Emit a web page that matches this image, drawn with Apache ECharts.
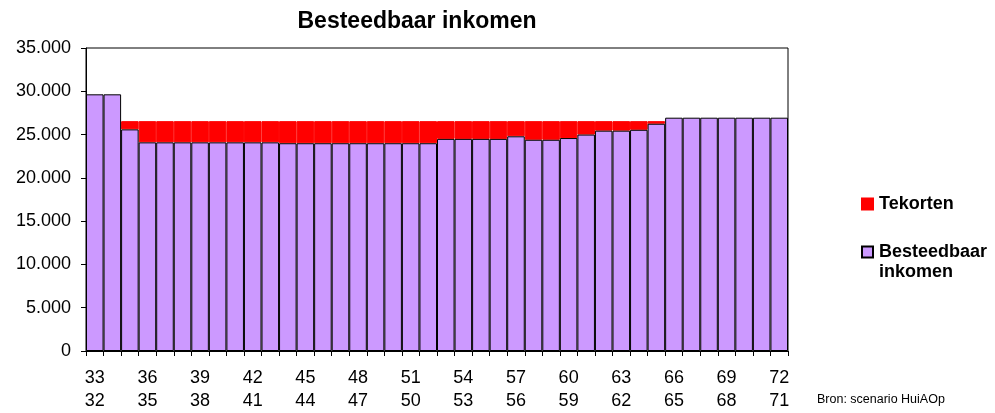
<!DOCTYPE html>
<html>
<head>
<meta charset="utf-8">
<script src="https://cdn.jsdelivr.net/npm/echarts@6/dist/echarts.min.js"></script>
<style>
  html, body { margin: 0; padding: 0; background: #fff; }
  #chart { width: 995px; height: 413px; }
</style>
</head>
<body>
<div id="chart"></div>
<script>
// leeftijd (onderste regel) per balk
var ages = [];
for (var a = 32; a <= 71; a++) ages.push(a);
var categories = ages.map(function (a) { return (a + 1) + '\n' + a; });

var inkomen = [
  29650, 29650, 25600, 24100, 24100, 24100, 24100, 24100, 24100, 24100,
  24100, 24000, 24000, 24000, 24000, 24000, 24000, 24000, 24000, 24000,
  24500, 24500, 24500, 24500, 24800, 24400, 24400, 24600, 25000, 25450,
  25450, 25550, 26250, 26950, 26950, 26950, 26950, 26950, 26950, 26950
];
var tekorten = [
  0, 0, 950, 2450, 2450, 2450, 2450, 2450, 2450, 2450,
  2450, 2550, 2550, 2550, 2550, 2550, 2550, 2550, 2550, 2550,
  2050, 2050, 2050, 2050, 1750, 2150, 2150, 1950, 1550, 1100,
  1100, 1000, 300, 0, 0, 0, 0, 0, 0, 0
];

var chart = echarts.init(document.getElementById('chart'));
var font = 'Liberation Sans, Arial, sans-serif';

var option = {
  animation: false,
  textStyle: { fontFamily: font },
  title: {
    text: 'Besteedbaar inkomen',
    left: 412, top: 5, textAlign: 'center',
    textStyle: { fontSize: 23, fontWeight: 'bold', color: '#000', fontFamily: font }
  },
  grid: {
    left: 86, top: 48, width: 702, height: 303,
    show: true, borderColor: '#000', borderWidth: 1, backgroundColor: '#fff'
  },
  legend: {
    orient: 'vertical',
    left: 856, top: 189,
    itemGap: 28,
    itemWidth: 11, itemHeight: 11,
    icon: 'rect',
    data: ['Tekorten', 'Besteedbaar inkomen'],
    formatter: function (n) { return n === 'Besteedbaar inkomen' ? 'Besteedbaar' : n; },
    textStyle: { fontSize: 18, fontWeight: 'bold', color: '#000', lineHeight: 20, padding: [0, 0, 0, 1], fontFamily: font }
  },
  xAxis: {
    type: 'category',
    data: categories,
    axisLine: { lineStyle: { color: '#000', width: 1 } },
    axisTick: { show: true, interval: 0, length: 5, lineStyle: { color: '#000' } },
    axisLabel: { interval: 2, fontSize: 18, lineHeight: 23, color: '#000', margin: 16, fontFamily: font }
  },
  yAxis: {
    type: 'value',
    min: 0, max: 35000, interval: 5000,
    splitLine: { show: false },
    axisLine: { show: true, lineStyle: { color: '#000' } },
    axisTick: { show: true, length: 5, lineStyle: { color: '#000' } },
    axisLabel: {
      fontSize: 18, color: '#000', margin: 15, fontFamily: font,
      formatter: function (v) { return String(v).replace(/\B(?=(\d{3})+(?!\d))/g, '.'); }
    }
  },
  series: [
    {
      name: 'Besteedbaar inkomen',
      type: 'bar',
      stack: 'tot',
      z: 3,
      barWidth: '100%',
      barCategoryGap: '0%',
      data: inkomen,
      itemStyle: { color: '#CC99FF', borderColor: '#000', borderWidth: 1 }
    },
    {
      name: 'Tekorten',
      type: 'bar',
      stack: 'tot',
      z: 2,
      barWidth: '100%',
      barCategoryGap: '0%',
      // geen tekort: geen balk tekenen
      data: tekorten.map(function (v) { return v === 0 ? '-' : v; }),
      itemStyle: { color: '#FF0000', borderColor: '#FF0000', borderWidth: 1 }
    }
  ],
  graphic: [
    {
      type: 'text', x: 879, y: 272,
      style: { text: 'inkomen', fontSize: 18, fontWeight: 'bold', fill: '#000', fontFamily: font, verticalAlign: 'middle' }
    },
    {
      type: 'text', x: 817, y: 400,
      style: { text: 'Bron: scenario HuiAOp', fontSize: 12.5, fill: '#000', fontFamily: font, verticalAlign: 'middle' }
    }
  ]
};
chart.setOption(option);
</script>
</body>
</html>
